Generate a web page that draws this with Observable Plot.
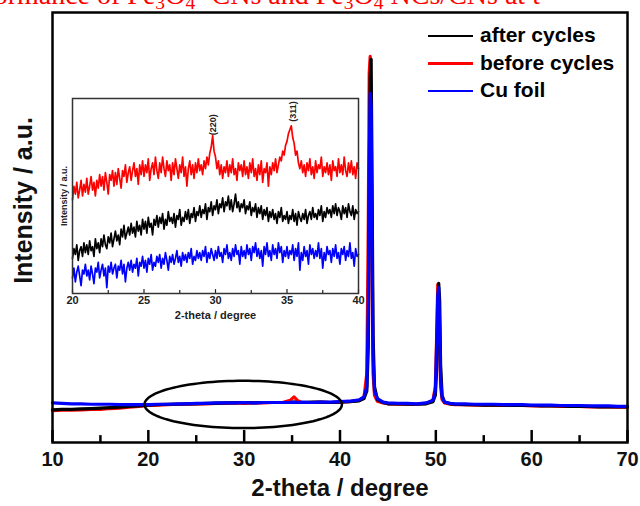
<!DOCTYPE html>
<html>
<head>
<meta charset="utf-8">
<script src="https://cdn.jsdelivr.net/npm/d3@7"></script>
<script src="https://cdn.jsdelivr.net/npm/@observablehq/plot@0.6"></script>
<style>
  html, body { margin: 0; padding: 0; background: #fff; }
  #wrap { position: relative; width: 640px; height: 506px; overflow: hidden; background: #fff; }
  #wrap svg { position: absolute; }
  #title { position: absolute; left: -25px; top: -19px; font-family: "Liberation Serif", "Times New Roman", serif; font-size: 28px; line-height: 28px; color: #ff0000; white-space: nowrap; }
  #title sub { font-size: 0.7em; vertical-align: -0.25em; line-height: 0; }
  .leg { position: absolute; font-family: "Liberation Sans", Arial, sans-serif; font-weight: bold; font-size: 21px; color: #000; white-space: nowrap; }
  .legline { position: absolute; height: 2.5px; width: 45px; }
</style>
</head>
<body>
<div id="wrap">
  <div id="title">rformance of Fe<sub>3</sub>O<sub>4</sub> -CNs and Fe<sub>3</sub>O<sub>4</sub> NCs/CNs at t</div>
</div>
<script>
// ---------- main pattern data ----------
const seriesNames = ["after cycles", "before cycles", "Cu foil"];
const seriesColors = ["#000000", "#ff0000", "#0000ff"];

const mainX = [10,11,12,13,14,15,16,17,18,19,20,21,22,23,24,25,26,27,28,29,30,31,32,33,34,
  34.8,35.2,35.6,
  36,37,38,39,40,41,42,
  42.5,42.8,42.95,43.05,43.15,43.25,43.35,43.45,43.6,43.9,44.5,
  45,46,47,48,49,
  49.7,49.95,50.1,50.2,50.3,50.4,50.5,50.65,50.9,51.5,
  52,53,54,55,56,57,58,59,60,61,62,63,64,65,66,67,68,69,70];

const mainAfter = [7.6,7.7,7.7,7.8,7.9,8.0,8.1,8.2,8.4,8.5,8.7,8.8,8.9,8.9,9.0,9.0,9.1,9.1,9.2,9.2,9.3,9.2,9.3,9.3,9.3,
  9.3,9.4,9.3,
  9.3,9.4,9.4,9.3,9.4,9.5,9.7,
  10.2,12,22,55,85,89.1,60,25,13,10,9.3,
  9.0,9.0,8.9,8.9,9.0,
  9.5,11,18,30,37,33,18,11,9.4,9.0,
  8.9,8.8,8.8,8.7,8.7,8.7,8.6,8.6,8.6,8.5,8.5,8.5,8.4,8.4,8.4,8.3,8.3,8.3,8.3];

const mainBefore = [7.4,7.5,7.5,7.6,7.7,7.7,7.9,8.0,8.2,8.4,8.6,8.7,8.8,8.9,8.9,9.0,9.0,9.1,9.1,9.2,9.1,9.2,9.2,9.3,9.3,
  9.8,10.6,9.7,
  9.3,9.3,9.4,9.3,9.4,9.5,9.8,
  10.5,16,50,86,89.8,70,35,16,11,9.6,9.2,
  9.0,8.9,8.9,8.9,9.1,
  9.8,13,26,36.8,34,22,13,10,9.2,8.9,
  8.8,8.8,8.7,8.7,8.7,8.6,8.6,8.6,8.5,8.5,8.5,8.4,8.4,8.4,8.3,8.3,8.3,8.2,8.2];

const mainCu = [9.2,9.1,9.0,9.0,8.9,8.9,8.9,8.8,8.8,8.8,8.8,8.9,8.9,9.0,9.0,9.1,9.1,9.2,9.2,9.2,9.3,9.2,9.3,9.3,9.3,
  9.3,9.4,9.3,
  9.4,9.3,9.4,9.4,9.5,9.6,9.9,
  10.6,13,30,65,81.2,78,45,20,12,10.2,9.4,
  9.2,9.1,9.1,9.0,9.2,
  9.8,12,24,34,36,27,15,10.5,9.4,9.1,
  9.0,9.0,8.9,8.9,8.9,8.8,8.8,8.8,8.7,8.7,8.7,8.6,8.6,8.6,8.5,8.5,8.5,8.4,8.4];

const mainMajorTicks = [10,20,30,40,50,60,70];
const mainMinorTicks = [15,25,35,45,55,65];

// highlighted region ellipse (data units)
const ellipseCenter = [29.9, 8.85];
const ellipseRadii = [10.3, 5.5];

// ---------- inset data (20–40°, step 0.1°) ----------
const insetX = d3.range(0, 201).map(i => +(20 + i * 0.1).toFixed(1));
const insetBefore = [
  48,55,51,57,49,53,58,50,56,52,
  59,51,55,60,53,57,50,58,54,61,
  55,60,53,62,57,51,61,58,63,55,
  62,56,64,59,54,63,60,66,57,62,
  65,58,63,67,60,64,56,66,61,68,
  60,66,62,69,58,64,67,61,70,63,
  59,67,62,70,64,60,68,63,66,58,
  67,61,69,64,59,66,62,70,60,65,
  55,64,68,61,66,59,67,62,69,63,
  66,61,68,64,70,66,72,75,81,73,
  70,64,68,61,66,59,65,62,68,60,
  66,62,69,61,64,58,67,63,66,60,
  68,61,65,59,67,62,69,60,64,58,
  66,61,68,57,64,62,67,55,65,61,
  67,63,69,62,66,70,68,73,71,76,
  78,82,84,86,80,77,71,73,67,64,
  68,62,66,60,67,63,69,61,65,59,
  68,62,66,64,70,60,65,62,67,61,
  66,58,68,63,65,60,69,62,66,61,
  70,63,60,67,62,68,61,65,59,67,
  64];
const insetAfter = [
  18,23,20,25,17,22,24,19,26,21,
  25,20,27,22,24,19,28,23,26,21,
  28,24,30,25,23,29,26,31,24,28,
  32,27,30,25,33,29,35,28,31,34,
  30,36,31,34,29,37,32,35,30,38,
  33,37,31,39,34,36,30,38,35,40,
  34,39,36,41,33,38,35,42,37,39,
  36,41,34,40,38,43,35,39,37,42,
  38,43,36,41,39,44,37,42,40,45,
  39,43,41,46,38,44,42,47,40,45,
  43,48,41,46,44,49,42,47,45,50,
  43,48,42,46,51,44,47,42,46,44,
  48,41,45,43,47,40,44,42,46,39,
  44,41,45,38,43,40,44,37,42,39,
  43,38,41,36,42,39,44,37,40,38,
  42,36,40,38,43,37,41,35,42,39,
  37,41,38,43,36,40,42,38,44,39,
  41,38,43,40,45,37,42,39,44,41,
  43,39,45,41,46,40,44,42,38,45,
  41,44,39,46,42,40,45,38,43,41,
  42];
const insetCu = [
  8,13,6,11,14,9,4,12,10,15,
  9,12,7,14,10,5,13,11,16,8,
  12,15,9,13,3,14,11,16,10,13,
  15,8,14,12,17,10,15,6,13,16,
  12,17,11,15,13,18,9,16,14,19,
  13,17,11,18,15,20,12,16,14,19,
  16,20,13,18,15,21,17,12,19,16,
  20,15,18,22,16,19,14,21,17,20,
  16,21,18,23,15,19,17,22,18,21,
  17,22,19,24,16,21,18,23,20,17,
  22,18,24,19,21,16,23,20,25,18,
  21,17,23,19,25,20,22,15,24,19,
  22,18,25,20,23,17,24,21,26,19,
  23,18,22,14,24,20,26,19,22,17,
  25,20,23,18,26,21,24,16,22,19,
  24,18,22,20,25,17,23,19,26,12,
  21,17,24,19,22,15,25,20,23,18,
  22,19,26,18,23,13,21,17,24,20,
  22,16,23,19,25,18,21,15,23,20,
  24,17,22,19,26,18,21,14,23,19,
  20];

const insetMajorTicks = [20,25,30,35,40];
const insetMinorTicks = [22.5,27.5,32.5,37.5];
const peakLabels = ["(220)", "(311)"];
const peakX = [29.85, 35.45];
const peakLabelY = [86.5, 93.3];

// ---------- build tables ----------
function table(xs, ys, name) { return xs.map((x, i) => ({x, y: ys[i], series: name})); }
const mainData = [
  ...table(mainX, mainBefore, "before cycles"),
  ...table(mainX, mainAfter, "after cycles"),
  ...table(mainX, mainCu, "Cu foil")
];
const insetData = [
  ...table(insetX, insetBefore, "before cycles"),
  ...table(insetX, insetAfter, "after cycles"),
  ...table(insetX, insetCu, "Cu foil")
];
const ellipsePts = d3.range(0, 361, 3).map(a => ({
  x: ellipseCenter[0] + ellipseRadii[0] * Math.cos(a * Math.PI / 180),
  y: ellipseCenter[1] + ellipseRadii[1] * Math.sin(a * Math.PI / 180)
}));

const sans = "'Liberation Sans', Arial, Helvetica, sans-serif";
const color = {domain: seriesNames, range: seriesColors};

const main = Plot.plot({
  width: 640, height: 506,
  marginLeft: 52, marginRight: 13, marginTop: 12, marginBottom: 64,
  x: {domain: [10, 70], axis: null},
  y: {domain: [0, 100], axis: null},
  color,
  style: {fontFamily: sans, background: "transparent", overflow: "visible"},
  marks: [
    Plot.line(mainData.filter(d => d.series === "before cycles"), {x: "x", y: "y", stroke: "series", strokeWidth: 3.2}),
    Plot.line(mainData.filter(d => d.series === "after cycles"), {x: "x", y: "y", stroke: "series", strokeWidth: 3.2}),
    Plot.line(mainData.filter(d => d.series === "Cu foil"), {x: "x", y: "y", stroke: "series", strokeWidth: 3.2}),
    Plot.line(ellipsePts, {x: "x", y: "y", stroke: "#000", strokeWidth: 2.5, curve: "linear"}),
    Plot.ruleX(mainMajorTicks, {x: d => d, y1: 0, y2: 2.8, stroke: "#000", strokeWidth: 2.5}),
    Plot.ruleX(mainMinorTicks, {x: d => d, y1: 0, y2: 1.6, stroke: "#000", strokeWidth: 2.5}),
    Plot.frame({stroke: "#000", strokeWidth: 2.5}),
    Plot.text(mainMajorTicks, {x: d => d, frameAnchor: "bottom", dy: 23, text: d => String(d), fontSize: 20, fontWeight: "bold", fill: "#111"}),
    Plot.text(["2-theta / degree"], {frameAnchor: "bottom", dy: 53, fontSize: 24, fontWeight: "bold", fill: "#111"}),
    Plot.text(["Intensity / a.u."], {frameAnchor: "left", textAnchor: "middle", dx: -29, dy: -27, rotate: -90, fontSize: 25, fontWeight: "bold", fill: "#111"})
  ]
});
main.style.left = "0px"; main.style.top = "0px";
document.getElementById("wrap").appendChild(main);

const inset = Plot.plot({
  width: 314, height: 250,
  marginLeft: 20, marginRight: 8, marginTop: 12, marginBottom: 43,
  x: {domain: [20, 40], axis: null},
  y: {domain: [0, 100], axis: null},
  color,
  style: {fontFamily: sans, background: "transparent", overflow: "visible"},
  marks: [
    Plot.line(insetData.filter(d => d.series === "before cycles"), {x: "x", y: "y", stroke: "series", strokeWidth: 1.7}),
    Plot.line(insetData.filter(d => d.series === "after cycles"), {x: "x", y: "y", stroke: "series", strokeWidth: 1.7}),
    Plot.line(insetData.filter(d => d.series === "Cu foil"), {x: "x", y: "y", stroke: "series", strokeWidth: 1.7}),
    Plot.ruleX(insetMajorTicks, {x: d => d, y1: 0, y2: 2, stroke: "#222", strokeWidth: 1.2}),
    Plot.ruleX(insetMinorTicks, {x: d => d, y1: 0, y2: 1.5, stroke: "#222", strokeWidth: 1.2}),
    Plot.frame({stroke: "#333", strokeWidth: 1.5}),
    Plot.text(insetMajorTicks, {x: d => d, frameAnchor: "bottom", dy: 10, text: d => String(d), fontSize: 11, fontWeight: "bold", fill: "#222"}),
    Plot.text(["2-theta / degree"], {frameAnchor: "bottom", dy: 25, fontSize: 11, fontWeight: "bold", fill: "#222"}),
    Plot.text(["Intensity / a.u."], {frameAnchor: "left", textAnchor: "middle", dx: -8, rotate: -90, fontSize: 9, fontWeight: "bold", fill: "#222"}),
    Plot.text(peakLabels, {x: (d, i) => peakX[i], y: (d, i) => peakLabelY[i], text: d => d, rotate: -90, fontSize: 9, fontWeight: "bold", fill: "#222"})
  ]
});
inset.style.left = "52px"; inset.style.top = "86px";
document.getElementById("wrap").appendChild(inset);

// legend
const wrap = document.getElementById("wrap");
seriesNames.forEach((name, i) => {
  const y = 36 + i * 27.5;
  const ln = document.createElement("div");
  ln.className = "legline";
  ln.style.left = "428px"; ln.style.top = (y - 1.25) + "px";
  ln.style.background = seriesColors[i];
  wrap.appendChild(ln);
  const t = document.createElement("div");
  t.className = "leg";
  t.textContent = name;
  t.style.left = "480px"; t.style.top = (y - 13) + "px";
  t.style.lineHeight = "24px";
  wrap.appendChild(t);
});
</script>
</body>
</html>
